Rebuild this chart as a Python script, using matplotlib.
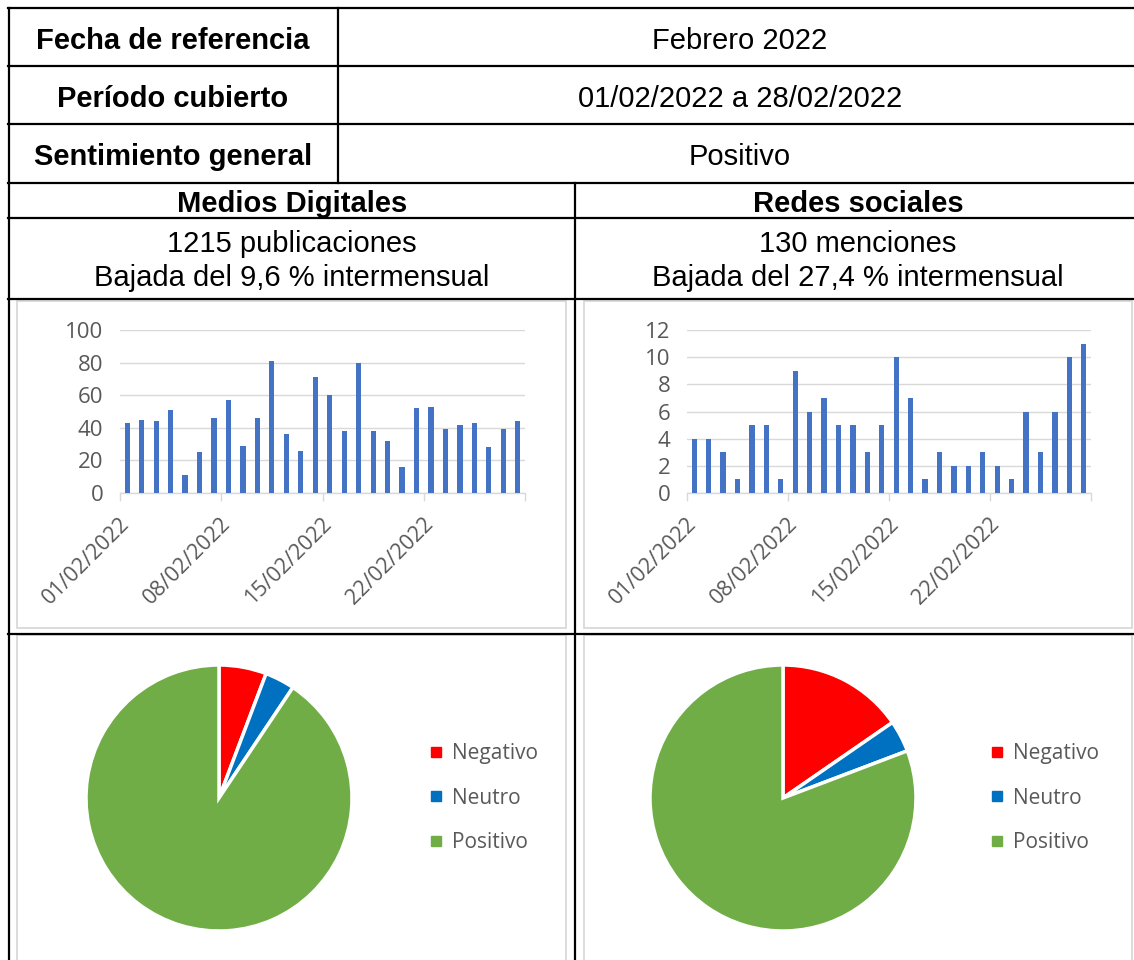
import matplotlib.pyplot as plt
from matplotlib.lines import Line2D
from matplotlib.patches import Rectangle
from matplotlib.transforms import ScaledTranslation

# ── DATA ──────────────────────────────────────────────────────

info_labels = ['Fecha de referencia', 'Período cubierto', 'Sentimiento general']
info_values = ['Febrero 2022', '01/02/2022 a 28/02/2022', 'Positivo']

sections = ['Medios Digitales', 'Redes sociales']
totals = ['1215 publicaciones', '130 menciones']
changes = ['Bajada del 9,6 % intermensual', 'Bajada del 27,4 % intermensual']

# publicaciones / menciones por dia, 01/02 - 28/02
medios_diarios = [43, 45, 44, 51, 11, 25, 46, 57, 29, 46, 81, 36, 26, 71,
                  60, 38, 80, 38, 32, 16, 52, 53, 39, 42, 43, 28, 39, 44]
redes_diarias = [4, 4, 3, 1, 5, 5, 1, 9, 6, 7, 5, 5, 3, 5,
                 10, 7, 1, 3, 2, 2, 3, 2, 1, 6, 3, 6, 10, 11]
date_labels = ['01/02/2022', '08/02/2022', '15/02/2022', '22/02/2022']

sentimientos = ['Negativo', 'Neutro', 'Positivo']
medios_sent = [70, 44, 1101]
redes_sent = [20, 5, 105]

# ── STYLE ─────────────────────────────────────────────────────

W, H = 1134, 960
BAR_COLOR = '#4472C4'
SENT_COLORS = ['#FF0000', '#0070C0', '#70AD47']
GRID = '#D9D9D9'
TXT = '#595959'
TABLE_FONT = 'Liberation Sans'
CHART_FONT = 'Open Sans'
FS = 21

fig = plt.figure(figsize=(W / 100, H / 100), dpi=100)


def px_axes(x0, y0, x1, y1):
    """axes from pixel box (top-left origin)"""
    return fig.add_axes([x0 / W, 1 - y1 / H, (x1 - x0) / W, (y1 - y0) / H])


# ── TABLE ─────────────────────────────────────────────────────

bg = fig.add_axes([0, 0, 1, 1], zorder=0)
bg.set_xlim(0, W)
bg.set_ylim(H, 0)
bg.axis('off')

lw = 1.6
for y in [7.5, 66, 124, 183, 218, 299, 633.5]:
    bg.plot([8, 1142], [y, y], color='black', lw=lw, solid_capstyle='projecting')
bg.plot([9, 9], [7.5, 970], color='black', lw=lw)
bg.plot([338, 338], [7.5, 183], color='black', lw=lw)
bg.plot([575, 575], [183, 970], color='black', lw=lw)
bg.plot([1141, 1141], [7.5, 970], color='black', lw=lw)

# chart frames
for x0, y0, x1, y1 in [(17, 301, 566, 628), (584, 301, 1132, 628),
                       (17, 635, 566, 975), (584, 635, 1132, 975)]:
    bg.add_patch(Rectangle((x0, y0), x1 - x0, y1 - y0, fill=False,
                           edgecolor=GRID, lw=1.3))

row_y = [41, 99, 157]
for lab, val, y in zip(info_labels, info_values, row_y):
    bg.text(173, y, lab, ha='center', va='center', fontsize=FS,
            fontweight='bold', family=TABLE_FONT)
    bg.text(740, y, val, ha='center', va='center', fontsize=FS,
            family=TABLE_FONT)

for i, xc in enumerate([292, 858]):
    bg.text(xc, 204, sections[i], ha='center', va='center', fontsize=FS,
            fontweight='bold', family=TABLE_FONT)
    bg.text(xc, 244, totals[i], ha='center', va='center', fontsize=FS,
            family=TABLE_FONT)
    bg.text(xc, 278, changes[i], ha='center', va='center', fontsize=FS,
            family=TABLE_FONT)

# ── BAR CHARTS ────────────────────────────────────────────────


def daily_bars(ax, values, ymax, ystep):
    x = range(len(values))
    ax.bar(x, values, width=0.36, color=BAR_COLOR, zorder=3)
    ax.set_xlim(-0.5, len(values) - 0.5)
    ax.set_ylim(0, ymax)
    ax.set_yticks(range(0, ymax + 1, ystep))
    ax.grid(axis='y', color=GRID, lw=1.0, zorder=0)
    for s in ['top', 'right', 'left']:
        ax.spines[s].set_visible(False)
    ax.spines['bottom'].set_color(GRID)
    ax.spines['bottom'].set_linewidth(1.0)
    ax.set_xticks([-0.5, 6.5, 13.5, 20.5, 27.5], labels=[])
    ax.set_xticks(range(0, 28, 7), labels=date_labels, minor=True)
    ax.tick_params(axis='x', which='major', length=6, color=GRID, width=1.0)
    ax.tick_params(axis='x', which='minor', length=0, pad=20)
    ax.tick_params(axis='y', length=0, pad=12, labelsize=16, labelcolor=TXT)
    for lab in ax.get_yticklabels():
        lab.set_family(CHART_FONT)
    shift = ScaledTranslation(-0.01, 0, fig.dpi_scale_trans)
    for lab in ax.get_xticklabels(minor=True):
        lab.set_rotation(45)
        lab.set_ha('right')
        lab.set_va('center')
        lab.set_rotation_mode('anchor')
        lab.set_fontsize(15.5)
        lab.set_color(TXT)
        lab.set_family(CHART_FONT)
        lab.set_transform(lab.get_transform() + shift)


ax1 = px_axes(120, 330, 525, 493)
daily_bars(ax1, medios_diarios, 100, 20)

ax2 = px_axes(687, 330, 1091, 493)
daily_bars(ax2, redes_diarias, 12, 2)

# ── PIE CHARTS ────────────────────────────────────────────────


def sentiment_pie(ax, values, legend_x):
    ax.pie(values, colors=SENT_COLORS, startangle=90, counterclock=False,
           wedgeprops=dict(edgecolor='white', linewidth=2.5))
    ax.set_xlim(-1, 1)
    ax.set_ylim(-1, 1)
    ax.set_aspect('equal')
    handles = [Line2D([], [], marker='s', linestyle='none', markersize=6.5,
                      color=c) for c in SENT_COLORS]
    leg = ax.legend(handles, sentimientos, loc='center left',
                    bbox_to_anchor=(legend_x / W, 1 - 798 / H),
                    bbox_transform=fig.transFigure, frameon=False,
                    borderpad=0, borderaxespad=0, handlelength=0.6,
                    handletextpad=0.45, labelspacing=1.12,
                    prop=dict(family=CHART_FONT, size=15))
    for t in leg.get_texts():
        t.set_color(TXT)


pie1 = px_axes(86, 665, 352, 931)
sentiment_pie(pie1, medios_sent, 430)

pie2 = px_axes(650, 665, 916, 931)
sentiment_pie(pie2, redes_sent, 991)

plt.savefig('out.png', dpi=100)
